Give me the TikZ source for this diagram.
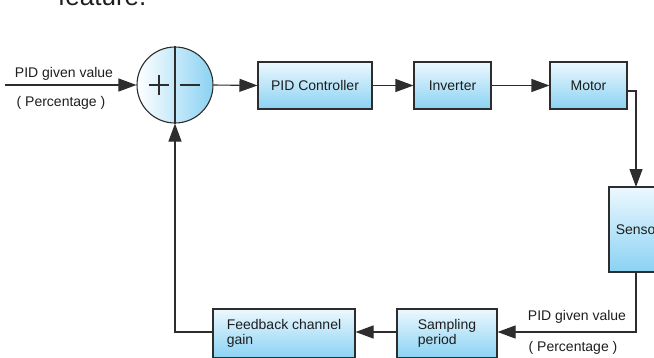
\documentclass[tikz,border=0pt]{standalone}
\usepackage{fontspec}
\setmainfont{Liberation Sans}
\usetikzlibrary{arrows.meta,positioning,calc}
\definecolor{boxtop}{RGB}{236,248,254}
\definecolor{boxbot}{RGB}{138,210,243}
\definecolor{linec}{RGB}{45,45,45}
\definecolor{txt}{RGB}{30,30,30}
\begin{document}
\begin{tikzpicture}[x=1pt,y=-1pt,
  blk/.style={draw=linec, line width=1.1pt, top color=boxtop, bottom color=boxbot,
    minimum height=47pt, inner sep=0pt, font=\fontsize{14}{15.5}\selectfont, text=txt, align=left},
  conn/.style={draw=linec, line width=1.1pt},
  arr/.style={conn, -{Triangle[length=18pt,width=13pt]}},
  lbl/.style={font=\fontsize{14}{15.5}\selectfont, text=txt, inner sep=0pt}
  ]
\useasboundingbox (0,0) rectangle (654,357);
\clip (0,0) rectangle (654,357);
% partial heading text at top
\node[anchor=base west, inner sep=0pt, font=\fontsize{26}{28}\selectfont, text=txt] (feat) at (58,5) {feature.};
% summing junction
\node[circle, draw=linec, line width=1.1pt, left color=white, right color=boxbot,
  minimum size=76pt, inner sep=0pt] (sum) at (175,85) {};
\draw[conn] (sum.north) -- (sum.south);
\draw[conn] ($(sum.center)+(-26,0)$) -- ($(sum.center)+(-6,0)$);
\draw[conn] ($(sum.center)+(-16,-10)$) -- ($(sum.center)+(-16,10)$);
\draw[conn] ($(sum.center)+(5,0)$) -- ($(sum.center)+(25,0)$);
% blocks
\node[blk, minimum width=114pt] (pid) at (315,85.5) {PID Controller};
\node[blk, minimum width=77pt] (inv) at (452.5,85.5) {Inverter};
\node[blk, minimum width=77pt] (mot) at (588.5,85.5) {Motor};
\node[blk, minimum width=56pt, minimum height=85pt] (sen) at (637,229.5) {\hspace*{2pt}Sensor};
\node[blk, minimum width=100pt, minimum height=49pt] (smp) at (447,333.5) {Sampling\\period};
\node[blk, minimum width=142pt, minimum height=49pt] (fbk) at (284,333.5) {Feedback channel\\gain};
% input
\coordinate (in) at (5,85);
\draw[arr] (in) -- (sum.west);
\node[lbl] (l1) at (64,74) {PID given value};
\node[lbl] (l2) at (61,103) {( Percentage )};
% forward path
\draw[arr] (sum.east) -- (pid.west);
\draw[arr] (pid.east) -- (inv.west);
\draw[arr] (inv.east) -- (mot.west);
\coordinate (mc) at (636,91);
\draw[arr] ($(mot.east)+(0,5.5)$) -- (mc) -- (636,187);
% feedback path
\coordinate (sc) at (636,332);
\draw[arr] (636,272) -- (sc) -- (smp.east |- sc);
\draw[arr] (smp.west |- sc) -- (fbk.east |- sc);
\coordinate (fc) at (175,332);
\draw[arr] (fbk.west |- fc) -- (fc) -- (sum.south);
\node[lbl] (l3) at (577,317) {PID given value};
\node[lbl] (l4) at (573,348) {( Percentage )};
\end{tikzpicture}
\end{document}
